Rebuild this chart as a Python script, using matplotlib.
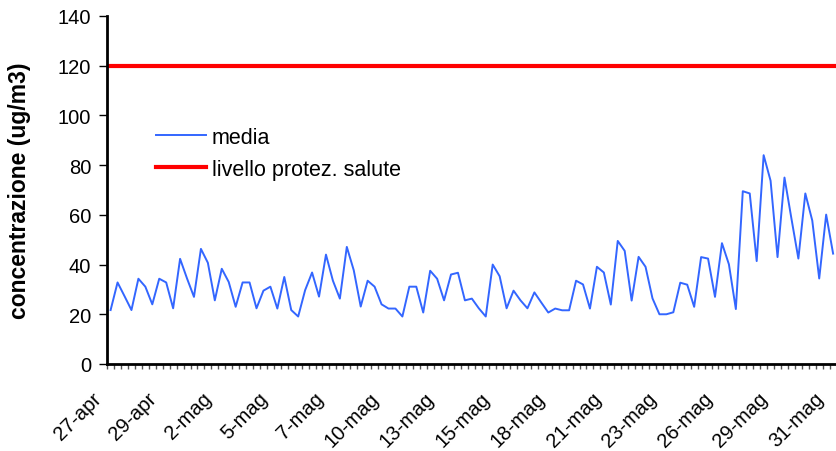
import numpy as np
import matplotlib.pyplot as plt
import matplotlib.transforms as mtransforms

plt.rcParams['font.family'] = ['Liberation Sans', 'DejaVu Sans']

# valori medi (3 per giorno), 27-apr .. 31-mag
media = [21.7, 32.8, 27.3, 21.7, 34.3, 31.1, 24.0, 34.3, 32.8, 22.4,
         42.3, 34.4, 27.0, 46.3, 40.7, 25.6, 38.3, 33.0, 23.0, 32.8,
         32.8, 22.4, 29.5, 31.1, 22.3, 35.0, 21.7, 19.1, 29.7, 36.8,
         27.1, 44.0, 33.5, 26.3, 47.1, 37.7, 23.1, 33.5, 31.1, 24.0,
         22.3, 22.3, 19.1, 31.1, 31.1, 20.7, 37.5, 34.3, 25.6, 36.0,
         36.7, 25.6, 26.3, 22.4, 19.1, 40.0, 35.3, 22.4, 29.5, 25.6,
         22.4, 28.8, 24.7, 20.7, 22.3, 21.6, 21.6, 33.5, 32.0, 22.3,
         39.1, 36.8, 23.9, 49.5, 45.5, 25.5, 43.1, 39.1, 26.4, 20.0,
         20.0, 20.8, 32.7, 31.9, 23.0, 43.0, 42.4, 27.0, 48.6, 40.1,
         22.1, 69.5, 68.6, 41.4, 84.0, 73.7, 43.0, 75.0, 58.5, 42.4,
         68.6, 57.7, 34.4, 60.1, 44.4]
soglia = 120
etichette = ['27-apr', '29-apr', '2-mag', '5-mag', '7-mag', '10-mag', '13-mag',
             '15-mag', '18-mag', '21-mag', '23-mag', '26-mag', '29-mag', '31-mag']

n = len(media)
x = np.arange(n)

fig = plt.figure(figsize=(8.37, 4.52), dpi=100)
ax = fig.add_axes([0.128, 0.1925, 0.8715, 0.77])

ax.plot(x, media, color='#3366FF', lw=1.4, label='media')
ax.plot([-0.5, n - 0.5], [soglia, soglia], color='#FF0000', lw=3,
        label='livello protez. salute')

ax.set_xlim(-0.5, n - 0.5)
ax.set_ylim(0, 140)
ax.set_yticks(range(0, 141, 20))

ax.set_xticks(x[::8])
ax.set_xticklabels(etichette, rotation=45, ha='right', va='bottom',
                   rotation_mode='anchor', fontsize=14.5)
ax.set_xticks(np.arange(-0.5, n), minor=True)
ax.tick_params(axis='x', which='major', length=0, pad=27.5)
ax.tick_params(axis='x', which='minor', length=3.5, width=1, color='#555555')
ax.tick_params(axis='y', length=5.5, width=1, labelsize=14.5, pad=6)

# sposta un po' a sinistra le etichette delle date
sposta = mtransforms.ScaledTranslation(-0.06, 0, fig.dpi_scale_trans)
for lab in ax.get_xticklabels():
    lab.set_transform(lab.get_transform() + sposta)

for s in ['top', 'right']:
    ax.spines[s].set_visible(False)
ax.spines['left'].set_linewidth(2)
ax.spines['bottom'].set_linewidth(2)

ax.set_ylabel('concentrazione (ug/m3)', fontsize=16.5, fontweight='bold')
ax.yaxis.set_label_coords(-0.104, 0.5)

ax.legend(loc='upper left', bbox_to_anchor=(0.1864, 0.717),
          bbox_transform=fig.transFigure, frameon=False, fontsize=15.5,
          borderpad=0, borderaxespad=0, handlelength=2.3, handletextpad=0.3,
          labelspacing=0.5)

fig.savefig('out.png', dpi=100)
